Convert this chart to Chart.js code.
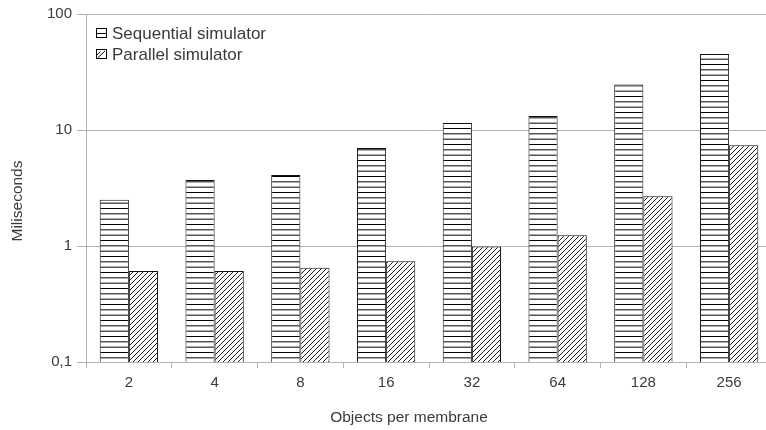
<!DOCTYPE html>
<html>
<head>
<meta charset="utf-8">
<script src="https://cdn.jsdelivr.net/npm/chart.js@4/dist/chart.umd.min.js"></script>
<style>
  html, body { margin: 0; padding: 0; background: #fff; overflow: hidden; }
  #wrap { width: 766px; height: 430px; overflow: hidden; }
</style>
</head>
<body>
<div id="wrap"><canvas id="c" width="818" height="430"></canvas></div>
<script>
// Run times (ms) per number of objects in each membrane
const categories = ['2', '4', '8', '16', '32', '64', '128', '256'];
const sequentialMs = [2.5, 3.7, 4.1, 7.0, 11.5, 13.2, 24.7, 45.3];
const parallelMs = [0.61, 0.61, 0.65, 0.74, 0.99, 1.24, 2.69, 7.4];
const seriesNames = ['Sequential simulator', 'Parallel simulator'];
const yTickValues = [0.1, 1, 10, 100];
const yTickLabels = ['0,1', '1', '10', '100'];
const xTitle = 'Objects per membrane';
const yTitle = 'Miliseconds';

const FONT = '"Liberation Sans", Arial, Helvetica, sans-serif';
const TEXT = '#3a3a3a';
const GRID = '#b3b3b3';

// Horizontal stripe fill
function stripePattern() {
  const c = document.createElement('canvas');
  c.width = 8; c.height = 16;
  const g = c.getContext('2d');
  g.fillStyle = '#fff'; g.fillRect(0, 0, 8, 16);
  g.strokeStyle = '#000'; g.lineWidth = 1;
  [0.5, 5.83, 11.17].forEach(y => {
    g.beginPath(); g.moveTo(0, y); g.lineTo(8, y); g.stroke();
  });
  return g.createPattern(c, 'repeat');
}

// Diagonal "/" hatch fill
function hatchPattern() {
  const s = 5;
  const c = document.createElement('canvas');
  c.width = s; c.height = s;
  const g = c.getContext('2d');
  g.fillStyle = '#fff'; g.fillRect(0, 0, s, s);
  g.strokeStyle = '#000'; g.lineWidth = 0.9;
  g.beginPath();
  g.moveTo(0, s); g.lineTo(s, 0);
  g.moveTo(-1, 1); g.lineTo(1, -1);
  g.moveTo(s - 1, s + 1); g.lineTo(s + 1, s - 1);
  g.stroke();
  return g.createPattern(c, 'repeat');
}

// Legend drawn inside the plot, top-left
const plotLegend = {
  id: 'plotLegend',
  afterDraw(chart) {
    const { ctx, chartArea } = chart;
    ctx.save();
    ctx.font = '17px ' + FONT;
    ctx.textBaseline = 'middle';
    chart.data.datasets.forEach((ds, i) => {
      const x = chartArea.left + 10;
      const y = chartArea.top + 19 + i * 21;
      ctx.fillStyle = '#fff';
      ctx.fillRect(x, y - 5, 11, 10);
      ctx.strokeStyle = '#000';
      ctx.lineWidth = 1;
      ctx.strokeRect(x + 0.5, y - 4.5, 10, 9);
      ctx.beginPath();
      if (i === 0) {
        ctx.moveTo(x + 0.5, y + 0.5); ctx.lineTo(x + 10.5, y + 0.5);
      } else {
        ctx.moveTo(x + 2, y + 3.5); ctx.lineTo(x + 9, y - 3);
        ctx.moveTo(x + 0.5, y + 1.5); ctx.lineTo(x + 4.5, y - 2.5);
      }
      ctx.stroke();
      ctx.fillStyle = TEXT;
      ctx.fillText(ds.label, x + 16, y + 1);
    });
    ctx.restore();
  }
};

// Axis titles: category title centred on the full canvas width,
// value title rotated beside the value axis
const axisTitles = {
  id: 'axisTitles',
  afterDraw(chart) {
    const { ctx, chartArea } = chart;
    ctx.save();
    ctx.font = '15.5px ' + FONT;
    ctx.fillStyle = TEXT;
    ctx.textAlign = 'center';
    ctx.textBaseline = 'middle';
    ctx.fillText(xTitle, chart.width / 2, chart.height - 12);
    ctx.translate(18, (chartArea.top + chartArea.bottom) / 2 + 13);
    ctx.rotate(-Math.PI / 2);
    ctx.fillText(yTitle, 0, 0);
    ctx.restore();
  }
};

new Chart(document.getElementById('c'), {
  type: 'bar',
  data: {
    labels: categories,
    datasets: [
      {
        label: seriesNames[0],
        data: sequentialMs,
        backgroundColor: stripePattern(),
        borderColor: '#111',
        borderWidth: 1
      },
      {
        label: seriesNames[1],
        data: parallelMs,
        backgroundColor: hatchPattern(),
        borderColor: '#111',
        borderWidth: 1
      }
    ]
  },
  options: {
    responsive: false,
    animation: false,
    layout: { padding: { top: 13, right: 46, bottom: 0, left: 0 } },
    datasets: { bar: { barPercentage: 1, categoryPercentage: 0.68 } },
    plugins: {
      legend: { display: false },
      tooltip: { enabled: false }
    },
    scales: {
      x: {
        grid: { display: true, drawOnChartArea: false, drawTicks: true, tickLength: 6, color: GRID, offset: true },
        border: { color: GRID },
        ticks: { color: TEXT, font: { family: FONT, size: 15 }, padding: 6 },
        afterFit(scale) { scale.height = 68; }
      },
      y: {
        type: 'logarithmic',
        min: 0.1,
        max: 100,
        afterBuildTicks(scale) { scale.ticks = yTickValues.map(v => ({ value: v })); },
        grid: { color: GRID, tickLength: 9, drawTicks: true },
        border: { color: GRID },
        ticks: {
          color: TEXT, font: { family: FONT, size: 15 }, padding: 5,
          callback(value) {
            const k = yTickValues.findIndex(v => Math.abs(v - value) < 1e-9);
            return k >= 0 ? yTickLabels[k] : '';
          }
        },
        afterFit(scale) { scale.width = 86; }
      }
    }
  },
  plugins: [plotLegend, axisTitles]
});
</script>
</body>
</html>
